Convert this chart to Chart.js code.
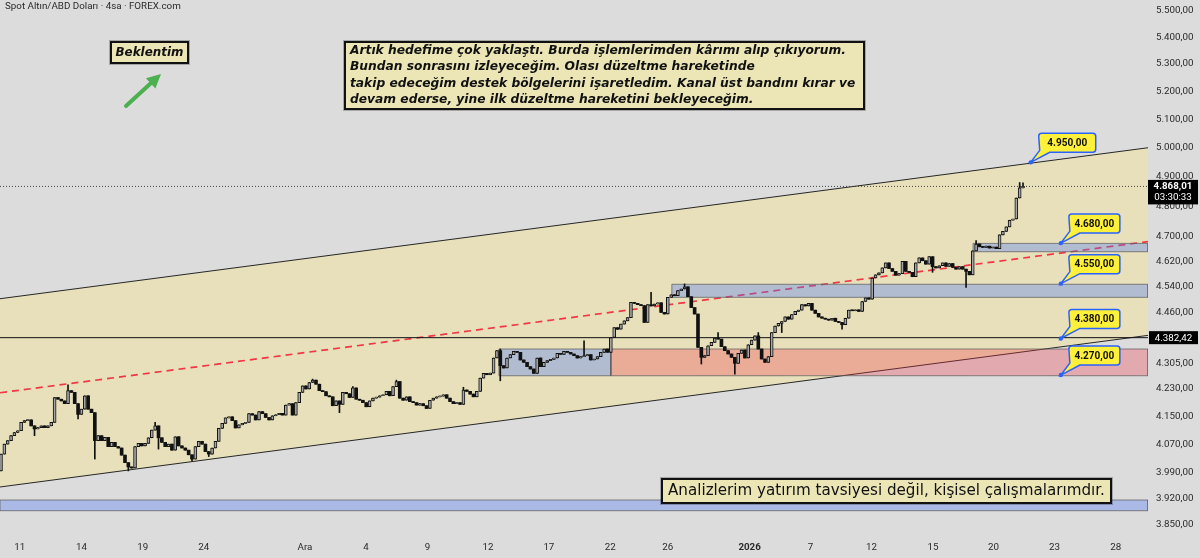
<!DOCTYPE html>
<html><head><meta charset="utf-8">
<script src="https://cdn.jsdelivr.net/npm/chart.js@4.4.1/dist/chart.umd.min.js"></script>
<style>html,body{margin:0;padding:0;background:#dcdcdc;}canvas{display:block;}</style>
</head><body>
<canvas id="c" width="1200" height="558"></canvas>
<script>
// ---------- DATA ----------
const firstOpen = 3995;
const closes = [
4042,4070,4080,4094,4103,4108,4132,4137,4139,4122,
4113,4117,4122,4117,4122,4132,4204,4199,4194,4186,
4224,4219,4186,4155,4170,4209,4170,4160,4080,4094,
4080,4089,4063,4075,4063,4059,4039,4018,4006,4003,
4063,4072,4065,4072,4088,4110,4122,4088,4075,4063,
4070,4053,4091,4065,4059,4053,4040,4028,4063,4078,
4070,4049,4042,4059,4078,4115,4129,4145,4148,4137,
4116,4125,4129,4132,4157,4153,4139,4163,4157,4146,
4139,4151,4154,4158,4153,4182,4186,4153,4189,4219,
4238,4229,4248,4255,4243,4224,4221,4209,4206,4180,
4194,4184,4219,4215,4204,4232,4199,4196,4189,4177,
4194,4202,4205,4209,4212,4222,4209,4236,4251,4202,
4196,4206,4192,4189,4182,4186,4180,4172,4196,4202,
4206,4208,4212,4202,4192,4186,4189,4184,4226,4222,
4214,4206,4222,4261,4275,4271,4276,4321,4343,4298,
4291,4321,4331,4341,4338,4315,4308,4295,4288,4275,
4321,4295,4308,4313,4317,4321,4335,4332,4341,4338,
4333,4328,4321,4325,4328,4331,4315,4318,4325,4338,
4348,4338,4383,4413,4408,4424,4434,4444,4491,4488,
4484,4481,4429,4484,4480,4486,4490,4460,4455,4507,
4515,4512,4528,4533,4540,4509,4475,4455,4353,4323,
4328,4358,4368,4381,4378,4355,4343,4333,4323,4305,
4335,4345,4321,4361,4375,4388,4348,4318,4308,4325,
4398,4418,4426,4432,4446,4439,4453,4463,4467,4484,
4480,4488,4467,4457,4446,4442,4439,4436,4442,4432,
4429,4422,4442,4467,4465,4468,4463,4494,4505,4501,
4568,4578,4584,4600,4616,4598,4589,4577,4582,4621,
4589,4586,4572,4616,4632,4623,4612,4636,4604,4600,
4607,4616,4605,4614,4602,4596,4604,4596,4589,4578,
4655,4677,4668,4666,4670,4664,4667,4662,4707,4718,
4733,4755,4759,4829,4863,4868.01
];
const highWicks = {20:4241,46:4132,93:4258,105:4236,118:4255,138:4234,149:4348,174:4373,194:4523,204:4549,214:4398,226:4398,291:4688,304:4881,305:4880};
const lowWicks  = {10:4094,23:4142,28:4028,38:3995,47:4056,57:4023,62:4035,101:4160,149:4253,209:4303,219:4273,233:4398,251:4408,278:4586,288:4538};

const lastPrice = 4868.01;
const lastCountdown = '03:30:33';
const hLevel = 4382.42;

const yTicks = [5500,5400,5300,5200,5100,5000,4900,4800,4700,4620,4540,4460,4305,4230,4150,4070,3990,3920,3850];
const xTickPos = [5.6,24.0,42.3,60.5,90.7,108.9,127.3,145.3,163.5,181.8,199.0,223.4,241.6,259.8,278.1,296.2,314.4,332.7];
const xTickLabels = ['11','14','19','24','Ara','4','9','12','17','22','26','2026','7','12','15','20','23','28'];

const xMin = -0.3, xMax = 342.3;
const yMin = 3821, yMax = 5541;

const channelUpper = [4502.6, 5000.5];
const channelLower = [3950.6, 4389.4];
const channelMid   = [4217.8, 4685.0];

const zoneFrom   = [148.6, 182.0, 200.2, 290.1, xMin];
const zoneTo     = [182.0, xMax,  xMax,  xMax,  xMax];
const zoneTop    = [4348,  4348,  4548,  4679,  3915];
const zoneBottom = [4268,  4268,  4507,  4652,  3886];
const zoneKind   = ['blue','red','blue','blue','blue'];

const targetX      = [307.3, 316.3, 316.3, 316.3, 316.3];
const targetPrice  = [4950, 4680, 4550, 4380, 4270];

const titleText = 'Spot Altın/ABD Doları · 4sa · FOREX.com';
const badgeText = 'Beklentim';
const noteLines = [
 'Artık hedefime çok yaklaştı. Burda işlemlerimden kârımı alıp çıkıyorum.',
 'Bundan sonrasını izleyeceğim. Olası düzeltme hareketinde',
 'takip edeceğim destek bölgelerini işaretledim. Kanal üst bandını kırar ve',
 'devam ederse, yine ilk düzeltme hareketini bekleyeceğim.'
];
const disclaimer = 'Analizlerim yatırım tavsiyesi değil, kişisel çalışmalarımdır.';

// ---------- HELPERS ----------
function fmt(v){
  const s = Number(v).toFixed(2).split('.');
  return s[0].replace(/\B(?=(\d{3})+(?!\d))/g,'.') + ',' + s[1];
}
const mctx = document.createElement('canvas').getContext('2d');
function fitSize(text, style, family, target){
  mctx.font = style + ' 20px ' + family;
  return 20 * target / mctx.measureText(text).width;
}
const UI = 'Roboto';
const tickSize = fitSize('5.500,00', '', UI, 37.5);
const NOTE = '"DejaVu Sans"';

const opens = closes.map((c,i)=> i ? closes[i-1] : firstOpen);
const bodyData = closes.map((c,i)=>({x:i, y:[opens[i], c]}));
const wickData = closes.map((c,i)=>{
  let h = Math.max(opens[i], c), l = Math.min(opens[i], c);
  if (highWicks[i] !== undefined) h = Math.max(h, highWicks[i]);
  if (lowWicks[i] !== undefined) l = Math.min(l, lowWicks[i]);
  return {x:i, y:[l, h]};
});

const BEIGE = 'rgb(231,224,186)';
const BLUEZ = 'rgba(77,120,248,0.35)';
const REDZ  = 'rgba(242,54,69,0.30)';

const datasets = [];
datasets.push({type:'line', data:[{x:xMin,y:channelUpper[0]},{x:xMax,y:channelUpper[1]}],
  borderColor:'#262626', borderWidth:1, pointRadius:0, fill:'+1', backgroundColor:BEIGE, order:30});
datasets.push({type:'line', data:[{x:xMin,y:channelLower[0]},{x:xMax,y:channelLower[1]}],
  borderColor:'#262626', borderWidth:1, pointRadius:0, fill:false, order:18});
datasets.push({type:'line', data:[{x:xMin,y:channelMid[0]},{x:xMax,y:channelMid[1]}],
  borderColor:'#f23645', borderWidth:1.7, borderDash:[7,5], pointRadius:0, fill:false, order:20});
zoneFrom.forEach((x1,k)=>{
  const x2 = zoneTo[k], t = zoneTop[k], b = zoneBottom[k];
  datasets.push({type:'line', data:[{x:x1,y:t},{x:x2,y:t},{x:x2,y:b},{x:x1,y:b},{x:x1,y:t}],
    borderColor:'rgba(95,95,95,0.75)', borderWidth:1, pointRadius:0, fill:'shape',
    backgroundColor: zoneKind[k]==='red' ? REDZ : BLUEZ, order:16});
});
datasets.push({type:'line', data:[{x:xMin,y:hLevel},{x:xMax,y:hLevel}],
  borderColor:'#111', borderWidth:1, pointRadius:0, fill:false, order:10});
datasets.push({type:'line', data:[{x:xMin,y:lastPrice},{x:xMax,y:lastPrice}],
  borderColor:'#444', borderWidth:1, borderDash:[1,2], pointRadius:0, fill:false, order:10});
datasets.push({type:'bar', data:wickData, grouped:false, barThickness:1, backgroundColor:'#111', borderWidth:0, order:3});
datasets.push({type:'bar', data:bodyData, grouped:false, barThickness:3, minBarLength:1,
  backgroundColor: c => (c.raw && c.raw.y[1] >= c.raw.y[0]) ? '#a6a6a6' : '#111',
  borderColor:'#111', borderWidth: c => (c.raw && c.raw.y[1] >= c.raw.y[0]) ? 1 : 0,
  borderSkipped:false, order:2});

function noteBox(ctx,x,y,w,h){
  ctx.fillStyle='#ece6b6'; ctx.fillRect(x,y,w,h);
  ctx.strokeStyle='rgba(0,0,0,0.25)'; ctx.lineWidth=1; ctx.strokeRect(x-1.5,y-1.5,w+3,h+3);
  ctx.strokeStyle='#111'; ctx.lineWidth=2; ctx.strokeRect(x,y,w,h);
}

const bgPlugin = {id:'bg', beforeDraw(chart){const c=chart.ctx; c.save(); c.fillStyle='#dcdcdc'; c.fillRect(0,0,chart.width,chart.height); c.restore();}};

const annotPlugin = {id:'annot', afterDraw(chart){
  const ctx = chart.ctx, xs = chart.scales.x, ys = chart.scales.y;
  ctx.save();
  ctx.fillStyle='#2a2a2a'; ctx.textAlign='left'; ctx.textBaseline='middle';
  ctx.font = fitSize(titleText,'',UI,176).toFixed(2)+'px '+UI;
  ctx.fillText(titleText, 5, 7);
  noteBox(ctx,111,42,77,21);
  ctx.fillStyle='#111'; ctx.textAlign='center';
  ctx.font = 'italic bold '+fitSize(badgeText,'italic bold',NOTE,68).toFixed(2)+'px '+NOTE;
  ctx.fillText(badgeText, 149.5, 53);
  const tx=126, ty=106, hx=161, hy=74;
  const dx=hx-tx, dy=hy-ty, L=Math.hypot(dx,dy), ux=dx/L, uy=dy/L, px=-uy, py=ux;
  const bx=hx-ux*14, by=hy-uy*14;
  ctx.strokeStyle='#4caf50'; ctx.fillStyle='#4caf50'; ctx.lineWidth=4; ctx.lineCap='round';
  ctx.beginPath(); ctx.moveTo(tx,ty); ctx.lineTo(bx+ux*2,by+uy*2); ctx.stroke();
  ctx.beginPath(); ctx.moveTo(hx,hy); ctx.lineTo(bx+px*7,by+py*7); ctx.lineTo(bx-px*7,by-py*7); ctx.closePath(); ctx.fill();
  noteBox(ctx,345,42,519,67);
  ctx.fillStyle='#111'; ctx.textAlign='left';
  ctx.font = 'italic bold '+fitSize(noteLines[2],'italic bold',NOTE,506).toFixed(2)+'px '+NOTE;
  noteLines.forEach((l,i)=>ctx.fillText(l, 350, 51 + i*16.2));
  noteBox(ctx,662,479,449,24);
  ctx.fillStyle='#111';
  ctx.font = fitSize(disclaimer,'',NOTE,437).toFixed(2)+'px '+NOTE;
  ctx.fillText(disclaimer, 668, 491.5);
  targetPrice.forEach((p,k)=>{
    const dxp = xs.getPixelForValue(targetX[k]), dyp = ys.getPixelForValue(p);
    const w = k===0 ? 57 : 51, h = 19, left = dxp+8, top = dyp-29, right = left+w, bottom = top+h, r = 3;
    ctx.beginPath(); ctx.moveTo(left+r,top); ctx.lineTo(right-r,top); ctx.quadraticCurveTo(right,top,right,top+r);
    ctx.lineTo(right,bottom-r); ctx.quadraticCurveTo(right,bottom,right-r,bottom); ctx.lineTo(left+11,bottom);
    ctx.lineTo(dxp,dyp); ctx.lineTo(left+1,bottom-2); ctx.lineTo(left,top+r); ctx.quadraticCurveTo(left,top,left+r,top); ctx.closePath();
    ctx.fillStyle='#fff13a'; ctx.fill(); ctx.strokeStyle='#2962ff'; ctx.lineWidth=1.5; ctx.stroke();
    ctx.beginPath(); ctx.arc(dxp,dyp,2.2,0,Math.PI*2); ctx.fillStyle='#2962ff'; ctx.fill();
    ctx.fillStyle='#111'; ctx.textAlign='center';
    ctx.font = 'bold '+fitSize('4.680,00','bold',UI,40).toFixed(2)+'px '+UI;
    ctx.fillText(fmt(p), left+w/2, top+h/2+0.5);
  });
  const lp = ys.getPixelForValue(lastPrice);
  ctx.fillStyle='#000'; ctx.fillRect(1148, lp-6.5, 50, 24.5);
  ctx.fillStyle='#fff'; ctx.textAlign='center'; ctx.font = 'bold '+tickSize.toFixed(2)+'px '+UI;
  ctx.fillText(fmt(lastPrice), 1173, lp);
  ctx.font = tickSize.toFixed(2)+'px '+UI;
  ctx.fillText(lastCountdown, 1173, lp+11.5);
  const hp = ys.getPixelForValue(hLevel);
  ctx.fillStyle='#000'; ctx.fillRect(1149, hp-6.5, 49, 13);
  ctx.fillStyle='#fff'; ctx.font = tickSize.toFixed(2)+'px '+UI;
  ctx.fillText(fmt(hLevel), 1173.5, hp+0.5);
  ctx.restore();
}};

function noPad(s){ s.paddingTop = 0; s.paddingBottom = 0; s.paddingLeft = 0; s.paddingRight = 0; }

new Chart(document.getElementById('c'), {
  type:'bar',
  data:{datasets},
  options:{
    responsive:false, animation:false, events:[], devicePixelRatio:1,
    layout:{padding:0},
    plugins:{legend:{display:false}, tooltip:{enabled:false}, title:{display:false}, filler:{propagate:false}},
    scales:{
      x:{type:'linear', min:xMin, max:xMax, offset:false, bounds:'data',
        grid:{display:false, drawTicks:false}, border:{display:false},
        afterBuildTicks: s => { s.ticks = xTickPos.map(v=>({value:v})); },
        afterFit: s => { s.height = 23; noPad(s); },
        ticks:{autoSkip:false, maxRotation:0, minRotation:0, padding:6.5, color:'#2a2a2a',
          font: c => ({family:UI, size:tickSize, weight: xTickLabels[c.index]==='2026' ? 'bold' : 'normal'}),
          callback: (v,i) => xTickLabels[i]}
      },
      y:{type:'logarithmic', position:'right', min:yMin, max:yMax, bounds:'data',
        grid:{display:false, drawTicks:false}, border:{display:false},
        afterBuildTicks: s => { s.ticks = yTicks.map(v=>({value:v})); },
        afterFit: s => { s.width = 52; noPad(s); },
        ticks:{autoSkip:false, padding:8, color:'#2a2a2a', font:{family:UI, size:tickSize},
          callback: v => fmt(v)}
      }
    }
  },
  plugins:[bgPlugin, annotPlugin]
});
</script>
</body></html>
